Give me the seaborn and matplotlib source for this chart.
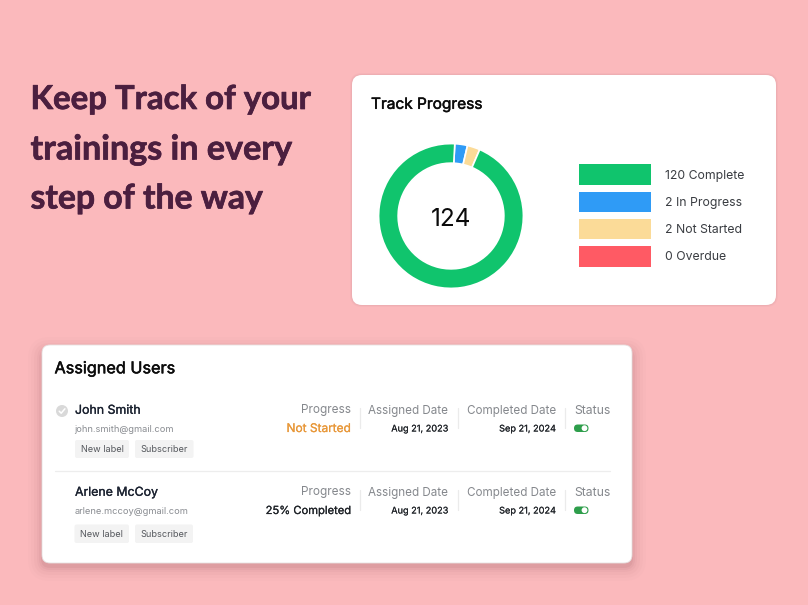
import matplotlib
matplotlib.use("Agg")
import matplotlib.pyplot as plt
from matplotlib.patches import FancyBboxPatch, Circle
import matplotlib.patheffects as pe
import seaborn as sns
import pandas as pd

W, H = 808, 605
BG = "#FBB9BC"

heading_lines = ["Keep Track of your", "trainings in every", "step of the way"]

legend_labels = ["120 Complete", "2 In Progress", "2 Not Started", "0 Overdue"]
legend_colors = ["#10C46D", "#2F9BF6", "#FBDB98", "#FF5A64"]
swatch_values = [1, 1, 1, 1]

total_label = "124"
arc_names = ["In Progress", "Not Started", "Complete"]
arc_values = [3.6, 3.6, 120]
arc_colors = ["#2F9BF6", "#FBDB98", "#10C46D"]

users = ["John Smith", "Arlene McCoy"]
emails = ["john.smith@gmail.com", "arlene.mccoy@gmail.com"]
progress = ["Not Started", "25% Completed"]
progress_colors = ["#E8983A", "#1F2328"]
assigned_dates = ["Aug 21, 2023", "Aug 21, 2023"]
completed_dates = ["Sep 21, 2024", "Sep 21, 2024"]
chips = ["New label", "Subscriber"]

sns.set_theme(style="white")
plt.rcParams["font.family"] = ["Inter", "DejaVu Sans"]

fig = plt.figure(figsize=(W / 100, H / 100), dpi=100, facecolor=BG)
bg = fig.add_axes([0, 0, 1, 1])
bg.set_xlim(0, W)
bg.set_ylim(H, 0)
bg.axis("off")


def card(x0, y0, x1, y1, r, **kw):
    p = FancyBboxPatch((x0 + r, y0 + r), x1 - x0 - 2 * r, y1 - y0 - 2 * r,
                       boxstyle=f"round,pad={r},rounding_size={r}", **kw)
    bg.add_patch(p)
    return p


def txt(x, y, s, size, color="#1F2328", ha="left", stroke=0, **kw):
    t = bg.text(x, y, s, fontsize=size, color=color, ha=ha, va="center", **kw)
    if stroke:
        t.set_path_effects([pe.withStroke(linewidth=stroke, foreground=color)])
    return t


# Heading
for line, y, size in zip(heading_lines, [99.5, 149.5, 198.5], [23.7, 24.6, 24.3]):
    txt(30.5, y, line, size, color="#4B1F3F", weight="bold", family="Lato", stroke=0.5)

# Track Progress card
for grow, a in [(2, 0.05), (1, 0.08)]:
    card(352 - grow, 75 - grow, 776 + grow, 305 + grow, 10 + grow, fc="#9A6A6E", ec="none", alpha=a)
card(352, 75, 776, 305, 10, fc="white", ec="none")
txt(371, 104.3, "Track Progress", 11.1, color="#0C0C0C", stroke=0.35)
txt(451, 219.3, total_label, 17.5, color="#0A0A0A", ha="center")
for label, y in zip(legend_labels, [176, 203, 230, 257.5]):
    txt(665, y, label, 8.8, color="#3A3D42")

# Assigned Users card with soft shadow
for grow, a in [(14, 0.014), (11, 0.02), (8, 0.028), (5, 0.036), (3, 0.05), (1, 0.07)]:
    card(42 - grow, 345 - grow + 6, 632 + grow, 563 + grow + 4, 8 + grow, fc="#7A3D45", ec="none", alpha=a)
card(42, 345, 632, 563, 8, fc="white", ec="#E6E0E0", lw=0.6)
txt(54.5, 368.8, "Assigned Users", 11.7, color="#0C0C0C", stroke=0.35)
bg.plot([55, 610], [470.5, 470.5], color="#EDEDED", lw=0.9)

# Check icon
bg.add_patch(Circle((62, 411), 6, fc="#D9D9D9", ec="none"))
bg.plot([59.2, 61.2, 64.9], [411.2, 413.2, 408.8], color="white", lw=1.1)

# Rows
row_offsets = [0, 82]
chip_boxes = [[(75, 129, 440, 458), (135, 193.5, 440, 458)],
              [(74.5, 129, 524.5, 543), (135, 193, 524.5, 543)]]
email_y = [429.3, 511.3]
for i, dy in enumerate(row_offsets):
    txt(75, 410.8 + dy, users[i], 8.9, color="#1B2230", stroke=0.2)
    txt(74.5, email_y[i], emails[i], 6.7, color="#8A8D92")
    for (x0, x1, y0, y1), chip in zip(chip_boxes[i], chips):
        card(x0, y0, x1, y1, 2, fc="#F3F3F3", ec="none")
        txt((x0 + x1) / 2, (y0 + y1) / 2 + 0.3, chip, 6.6, color="#55585D", ha="center")
    txt(351, 409.5 + dy, "Progress", 8.5, color="#85888D", ha="right")
    size = [8.6, 8.05][i]
    txt(351, 429 + dy, progress[i], size, color=progress_colors[i], ha="right", stroke=0.15)
    txt(448.5, 411 + dy, "Assigned Date", 8.4, color="#85888D", ha="right")
    txt(448.5, 429 + dy, assigned_dates[i], 6.6, color="#1F2328", ha="right", stroke=0.08)
    txt(556, 411 + dy, "Completed Date", 8.4, color="#85888D", ha="right")
    txt(556, 429 + dy, completed_dates[i], 6.6, color="#1F2328", ha="right", stroke=0.08)
    txt(574, 410.5 + dy, "Status", 8.8, color="#85888D")
    for x in [360, 458.2, 565]:
        bg.plot([x, x], [408 + dy, 428 + dy], color="#EBEBEB", lw=0.9)
    card(574, 424.5 + dy, 588.5, 432 + dy, 3.7, fc="#2E9E4B", ec="none")
    bg.add_patch(Circle((584.5, 428.2 + dy), 2.9, fc="white", ec="none"))

# Donut
ax = fig.add_axes([378.6 / W, 1 - 288.4 / H, 144.8 / W, 144.8 / H], facecolor="none")
ax.pie(arc_values, colors=sns.color_palette(arc_colors), startangle=87, counterclock=False,
       radius=1, wedgeprops=dict(width=0.27, edgecolor="white", linewidth=1.2))
ax.set_xlim(-1, 1)
ax.set_ylim(-1, 1)

# Legend swatches
sx = fig.add_axes([579 / W, 1 - 270.1 / H, 72 / W, 109.2 / H], facecolor="none")
df = pd.DataFrame({"label": legend_labels, "v": swatch_values})
sns.barplot(data=df, x="v", y="label", hue="label", palette=legend_colors, legend=False,
            width=0.75, saturation=1, linewidth=0, ax=sx)
sx.set_xlim(0, 1)
sx.axis("off")

fig.savefig("out.png", dpi=100, facecolor=BG)
